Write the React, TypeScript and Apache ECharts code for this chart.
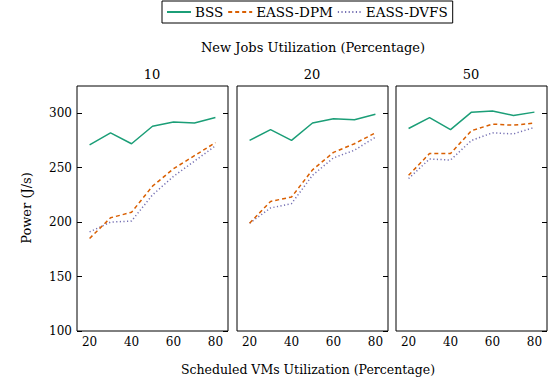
import React, { useEffect, useRef } from "react";
import * as echarts from "echarts";

const xValues = [20, 30, 40, 50, 60, 70, 80];
const panelTitles = ["10", "20", "50"];
const xTicks = [20, 40, 60, 80];
const yTicks = [100, 150, 200, 250, 300];

const bss10 = [271, 282, 272, 288, 292, 291, 296];
const dpm10 = [185, 204, 209, 233, 249, 261, 273];
const dvfs10 = [191, 200, 201, 225, 242, 256, 270];

const bss20 = [275, 285, 275, 291, 295, 294, 299];
const dpm20 = [199, 219, 223, 248, 264, 272, 282];
const dvfs20 = [199, 213, 217, 243, 259, 266, 278];

const bss50 = [286, 296, 285, 301, 302, 298, 301];
const dpm50 = [243, 263, 263, 284, 290, 289, 291];
const dvfs50 = [240, 258, 257, 275, 282, 281, 287];

const seriesNames = ["BSS", "EASS-DPM", "EASS-DVFS"];
const panelData = [
  [bss10, dpm10, dvfs10],
  [bss20, dpm20, dvfs20],
  [bss50, dpm50, dvfs50],
];

const FONT = "DejaVu Serif";
const colors = ["#1b9e77", "#d95f02", "#7570b3"];
const lineTypes: any[] = ["solid", [4, 3], [1.2, 2.4]];

export default function App() {
  const ref = useRef<HTMLDivElement>(null);
  useEffect(() => {
    const chart = echarts.init(ref.current!, null, { renderer: "svg" });
    const lefts = [77, 237, 396];
    const grids = lefts.map((l) => ({
      left: l,
      top: 86,
      width: 151,
      height: 245,
      show: true,
      borderColor: "#000",
      borderWidth: 1,
      backgroundColor: "transparent",
    }));
    const xAxes = lefts.map((_, i) => ({
      type: "value",
      gridIndex: i,
      min: 14,
      max: 86,
      axisLine: { show: false },
      axisTick: { show: false },
      splitLine: { show: false },
      axisLabel: {
        customValues: xTicks,
        color: "#000",
        fontFamily: FONT,
        fontSize: 12,
        margin: 5,
      },
    }));
    const yAxes: any[] = [];
    lefts.forEach((_, i) => {
      yAxes.push({
        type: "value",
        gridIndex: i,
        min: 100,
        max: 325,
        position: "left",
        axisLine: { show: false },
        splitLine: { show: false },
        axisTick: {
          show: i === 0,
          inside: true,
          length: 5,
          customValues: yTicks,
          lineStyle: { color: "#000" },
        },
        axisLabel: {
          show: i === 0,
          inside: false,
          customValues: yTicks,
          color: "#000",
          fontFamily: FONT,
          fontSize: 12,
          margin: 5,
        },
      });
      yAxes.push({
        type: "value",
        gridIndex: i,
        min: 100,
        max: 325,
        position: "right",
        axisLine: { show: false },
        splitLine: { show: false },
        axisTick: {
          show: true,
          inside: true,
          length: 5,
          customValues: yTicks,
          lineStyle: { color: "#000" },
        },
        axisLabel: { show: false },
      });
    });
    const series: any[] = [];
    panelData.forEach((group, i) => {
      group.forEach((vals, k) => {
        series.push({
          type: "line",
          name: seriesNames[k],
          xAxisIndex: i,
          yAxisIndex: i * 2,
          data: xValues.map((x, j) => [x, vals[j]]),
          symbol: "none",
          showSymbol: false,
          color: colors[k],
          lineStyle: { color: colors[k], width: 1.5, type: lineTypes[k] },
          z: 10 - k,
        });
      });
    });
    const titleStyle = { fill: "#000", fontFamily: FONT, fontSize: 13 };
    chart.setOption({
      animation: false,
      backgroundColor: "#fff",
      grid: grids,
      xAxis: xAxes,
      yAxis: yAxes,
      legend: {
        data: seriesNames,
        left: 162,
        top: 1,
        itemWidth: 24,
        itemHeight: 10,
        itemGap: 4,
        padding: [4, 5, 4, 4],
        borderColor: "#000",
        borderWidth: 1,
        itemStyle: { color: "transparent", borderColor: "transparent", borderWidth: 0 },
        textStyle: { color: "#000", fontFamily: FONT, fontSize: 13.5, padding: [0, 0, 0, -1] },
      },
      graphic: [
        {
          type: "text",
          style: { ...titleStyle, text: "New Jobs Utilization (Percentage)", x: 313, y: 47, align: "center", verticalAlign: "middle" },
        },
        ...panelTitles.map((t, i) => ({
          type: "text",
          style: { ...titleStyle, text: t, x: lefts[i] + 75, y: 74, align: "center", verticalAlign: "middle" },
        })),
        {
          type: "text",
          style: { ...titleStyle, fontSize: 12.5, text: "Scheduled VMs Utilization (Percentage)", x: 308, y: 369, align: "center", verticalAlign: "middle" },
        },
        {
          type: "text",
          x: 26,
          y: 208,
          rotation: Math.PI / 2,
          style: { ...titleStyle, text: "Power (J/s)", x: 0, y: 0, align: "center", verticalAlign: "middle" },
        },
      ],
      series,
    });
    return () => chart.dispose();
  }, []);
  return (
    <div
      ref={ref}
      style={{ position: "fixed", left: 0, top: 0, width: 551, height: 379 }}
    />
  );
}
